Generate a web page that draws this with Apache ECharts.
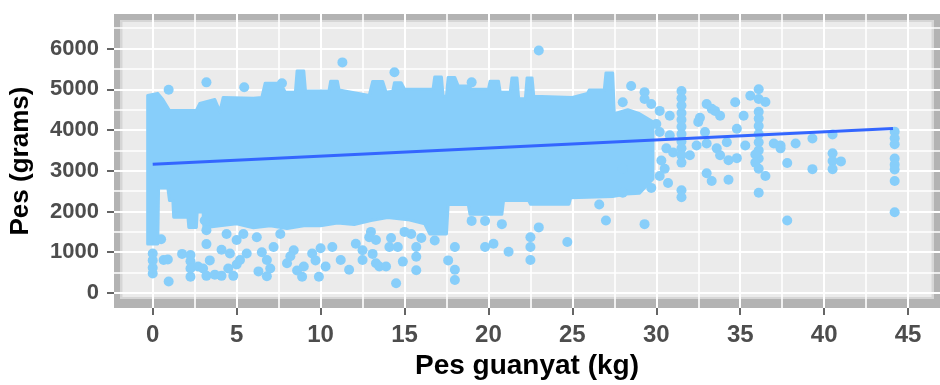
<!DOCTYPE html>
<html><head><meta charset="utf-8">
<script src="https://cdn.jsdelivr.net/npm/echarts@6/dist/echarts.min.js"></script>
<style>html,body{margin:0;padding:0;background:#fff}#c{width:940px;height:385px}</style>
</head><body><div id="c"></div>
<script>
const xTicks = [0, 5, 10, 15, 20, 25, 30, 35, 40, 45];
const xMinorTicks = [2.5, 7.5, 12.5, 17.5, 22.5, 27.5, 32.5, 37.5, 42.5];
const yTicks = [0, 1000, 2000, 3000, 4000, 5000, 6000];
const yMinorTicks = [500, 1500, 2500, 3500, 4500, 5500, 6500];
const xRange = [-2.306, 46.9];
const yRange = [-371, 6848];

// visible outline of the dense point cloud (upper edge, left to right)
const cloudUpper = [
  [-0.3, 4850], [0.3, 4900], [0.6, 4750], [1.0, 4480], [2.6, 4480], [2.8, 4650], [3.7, 4750],
  [4.0, 4450], [4.2, 4800], [6.0, 4780], [6.5, 4800], [6.7, 5150], [7.6, 5150], [7.9, 4930],
  [8.5, 4930], [8.6, 5450], [9.0, 5450], [9.1, 4960], [10.5, 4960], [10.6, 5200], [11.0, 5200],
  [11.1, 4980], [12.9, 4850], [13.1, 5190], [13.7, 5190], [13.9, 4930], [14.3, 4950], [14.4, 5160],
  [14.8, 5160], [15.0, 5000], [16.7, 5000], [16.8, 5300], [17.2, 5300], [17.3, 4830], [17.5, 4830],
  [17.6, 5290], [18.0, 5290], [18.2, 5080], [18.8, 5080], [19.0, 5000], [20.0, 5000], [20.1, 5200],
  [20.6, 5200], [20.7, 4930], [21.3, 4930], [21.4, 5280], [21.7, 5280], [21.8, 4770], [22.2, 4770],
  [22.3, 5280], [22.6, 5280], [22.7, 4830], [25.0, 4800], [25.9, 4900], [26.0, 4980], [26.9, 4980],
  [27.0, 5400], [27.4, 5400], [27.5, 4400], [28.3, 4500], [29.0, 4400], [29.8, 4200]
];
// lower edge, left to right
const cloudLower = [
  [-0.3, 1200], [0.3, 1200], [0.35, 2580], [0.9, 2580], [1.0, 2270], [1.2, 2270], [1.25, 1860],
  [2.1, 1860], [2.15, 1610], [2.6, 1610], [2.65, 1990], [3.0, 1990], [3.05, 1600], [4.0, 1650],
  [5.0, 1700], [6.0, 1600], [7.0, 1650], [8.0, 1580], [9.0, 1650], [10.0, 1650], [11.0, 1720],
  [12.0, 1680], [13.0, 1780], [14.0, 1850], [15.2, 1800], [16.2, 1700], [16.5, 1450], [17.5, 1450],
  [17.6, 2170], [18.8, 2170], [18.9, 1930], [20.8, 1930], [20.9, 2270], [22.4, 2270], [22.5, 2180],
  [24.8, 2180], [24.9, 2340], [27.4, 2370], [28.2, 2430], [29.0, 2450], [29.8, 2800]
];

const scatterPoints = [
  [0.95, 4990], [3.2, 5170], [5.45, 5050], [7.7, 5150], [11.3, 5660], [14.4, 5420], [19.0, 5170],
  [23.0, 5950], [28.5, 5080],
  [0, 970], [0, 800], [0, 620], [0, 480], [0.5, 1320], [0.65, 810], [0.9, 820], [0.95, 280],
  [1.75, 960], [2.25, 930], [2.25, 780], [2.25, 600], [2.25, 400], [2.7, 650], [3.0, 600], [3.2, 420],
  [3.1, 1780], [3.2, 1540], [3.2, 1200], [3.4, 800], [3.7, 450], [4.1, 420], [4.1, 1060], [4.4, 1450],
  [4.6, 970], [5.0, 1300], [5.2, 810], [5.4, 1450], [5.6, 970], [6.2, 1370], [6.3, 530], [6.8, 810],
  [6.8, 410], [7.2, 1130], [7.6, 1450], [8.0, 730], [8.4, 1050], [8.9, 400], [9.0, 650], [9.5, 970],
  [9.9, 400], [10.3, 650], [10.7, 1130], [11.2, 810], [11.7, 570], [12.1, 1210], [12.5, 1050],
  [12.5, 810], [12.9, 1370], [13.3, 730], [4.5, 600], [4.8, 420], [5.0, 700], [6.5, 1000], [7.0, 600],
  [8.2, 900], [8.6, 550], [9.7, 800], [10.0, 1100],
  [13.1, 960], [13.5, 650], [13.9, 650], [14.5, 240], [14.1, 1130], [14.6, 1130], [14.9, 770],
  [15.4, 1450], [15.7, 1130], [15.7, 890], [15.7, 560], [16.8, 1290], [17.6, 800], [18.0, 1130],
  [18.0, 570], [18.0, 320], [19.0, 1770], [19.8, 1770], [19.8, 1130], [20.3, 1210], [20.8, 1690],
  [21.2, 1010], [22.5, 1370], [22.5, 1130], [22.5, 810], [23.0, 1610], [24.7, 1250], [26.6, 2170],
  [27.0, 1780], [28.0, 2460], [28.0, 3050], [13.0, 1500], [13.3, 1300], [15.0, 1500], [16.0, 1350],
  [14.2, 1350],
  [28.0, 4680], [29.3, 4930], [29.3, 4760], [29.7, 4640], [30.2, 4470], [30.0, 4150], [30.2, 3950],
  [30.8, 4350], [30.8, 3870], [30.6, 3550], [31.0, 3450], [32.0, 3380], [30.3, 3250], [30.5, 3050],
  [30.2, 2870], [30.7, 2700], [29.7, 2580], [29.3, 1690],
  [31.5, 4960], [31.5, 4780], [31.5, 4600], [31.5, 4420], [31.5, 4250], [31.5, 4080], [31.5, 3900],
  [31.5, 3720], [31.5, 3550], [31.5, 3380], [31.5, 3200], [31.5, 2520], [31.5, 2350],
  [32.4, 3620], [32.5, 4200], [32.6, 4300], [32.9, 3950], [33.0, 4640], [33.3, 4520], [33.5, 4470],
  [33.8, 4350], [33.0, 3670], [33.6, 3550], [33.8, 3380], [34.2, 3700], [33.0, 2940], [33.3, 2750],
  [34.3, 2780], [34.3, 3260], [34.7, 4680], [35.2, 4350], [34.8, 4030], [34.8, 3310], [35.3, 3620],
  [35.6, 4840], [36.1, 5000], [36.5, 4690],
  [36.1, 4760], [36.1, 4450], [36.1, 4280], [36.1, 4100], [36.1, 3900], [36.1, 3700], [36.1, 3500],
  [36.1, 3300], [36.1, 3050], [35.9, 3400], [35.9, 3200], [36.5, 2870], [36.1, 2460], [37.0, 3670],
  [37.4, 3620], [37.4, 3550], [37.8, 3190], [37.8, 1780], [38.3, 3670], [39.3, 3790], [39.3, 3040],
  [40.5, 3890], [40.5, 3430], [40.5, 3240], [40.5, 3040], [41.0, 3230],
  [44.2, 3960], [44.2, 3800], [44.2, 3650], [44.2, 3300], [44.2, 3150], [44.2, 3030], [44.2, 2750],
  [44.2, 1980]
];
const fitLine = [[0, 3160], [44.1, 4035]];

const POINT = '#87CEFA';
const chart = echarts.init(document.getElementById('c'), null, {renderer: 'canvas'});
const labelFont = 'Liberation Sans, Arial, sans-serif';
const plain = v => String(Math.round(v));

chart.setOption({
  animation: false,
  backgroundColor: '#ffffff',
  grid: {left: 113, top: 14, width: 832, height: 298, show: false},
  xAxis: [
    {
      type: 'value', min: xRange[0], max: xRange[1], position: 'bottom',
      axisLine: {show: false, onZero: false},
      axisTick: {show: true, length: 7, customValues: xTicks, lineStyle: {color: '#333333', width: 1.5}},
      axisLabel: {customValues: xTicks, formatter: plain, color: '#4D4D4D', fontSize: 24, fontWeight: 'bold', fontFamily: labelFont, margin: 15},
      splitLine: {show: true, lineStyle: {color: '#ffffff', width: 2}},
      name: 'Pes guanyat (kg)', nameLocation: 'middle', nameGap: 39,
      nameTextStyle: {color: '#000000', fontSize: 28, fontWeight: 'bold', fontFamily: labelFont}
    },
    {
      type: 'value', min: xRange[0], max: xRange[1], position: 'bottom',
      axisLine: {show: false, onZero: false},
      axisTick: {show: false, customValues: xMinorTicks},
      axisLabel: {show: false},
      splitLine: {show: true, lineStyle: {color: '#ffffff', width: 1.6}}
    }
  ],
  yAxis: [
    {
      type: 'value', min: yRange[0], max: yRange[1], position: 'left',
      axisLine: {show: false, onZero: false},
      axisTick: {show: true, length: 7, customValues: yTicks, lineStyle: {color: '#333333', width: 1.5}},
      axisLabel: {customValues: yTicks, formatter: plain, color: '#4D4D4D', fontSize: 22, fontWeight: 'bold', fontFamily: labelFont, margin: 15},
      splitLine: {show: true, lineStyle: {color: '#ffffff', width: 2}},
      name: 'Pes (grams)', nameLocation: 'middle', nameGap: 80, nameRotate: 90,
      nameTextStyle: {color: '#000000', fontSize: 26, fontWeight: 'bold', fontFamily: labelFont}
    },
    {
      type: 'value', min: yRange[0], max: yRange[1], position: 'left',
      axisLine: {show: false, onZero: false},
      axisTick: {show: false, customValues: yMinorTicks},
      axisLabel: {show: false},
      splitLine: {show: true, lineStyle: {color: '#ffffff', width: 1.6}}
    }
  ],
  series: [
    {
      type: 'custom', z: -1, silent: true, clip: false, xAxisIndex: 0, yAxisIndex: 0,
      data: [[0, 0]],
      renderItem: function (params, api) {
        const a = api.coord([xRange[0], yRange[1]]);
        const b = api.coord([xRange[1], yRange[0]]);
        const w = b[0] - a[0], h = b[1] - a[1];
        return {type: 'group', children: [
          {type: 'rect', shape: {x: a[0], y: a[1], width: w, height: h}, style: {fill: '#B3B3B3'}},
          {type: 'rect', shape: {x: a[0] + 6, y: a[1] + 6, width: w - 12, height: h - 15}, style: {fill: '#D6D6D6'}},
          {type: 'rect', shape: {x: a[0] + 8.5, y: a[1] + 8, width: w - 17, height: h - 19}, style: {fill: '#EBEBEB'}}
        ]};
      }
    },
    {
      type: 'custom', z: 1, silent: true, xAxisIndex: 0, yAxisIndex: 0,
      data: [[0, 0]],
      renderItem: function (params, api) {
        const pts = [];
        cloudUpper.forEach(p => pts.push(api.coord(p)));
        for (let i = cloudLower.length - 1; i >= 0; i--) pts.push(api.coord(cloudLower[i]));
        return {type: 'polygon', shape: {points: pts}, style: {fill: POINT, stroke: POINT, lineWidth: 3, lineJoin: 'round'}};
      }
    },
    {
      type: 'scatter', z: 2, xAxisIndex: 0, yAxisIndex: 0, data: scatterPoints,
      symbol: 'circle', symbolSize: 10, itemStyle: {color: POINT, opacity: 1}, silent: true
    },
    {
      type: 'line', z: 3, xAxisIndex: 0, yAxisIndex: 0, data: fitLine, symbol: 'none',
      lineStyle: {color: '#3366FF', width: 3}, silent: true
    }
  ]
});
</script>
</body></html>
